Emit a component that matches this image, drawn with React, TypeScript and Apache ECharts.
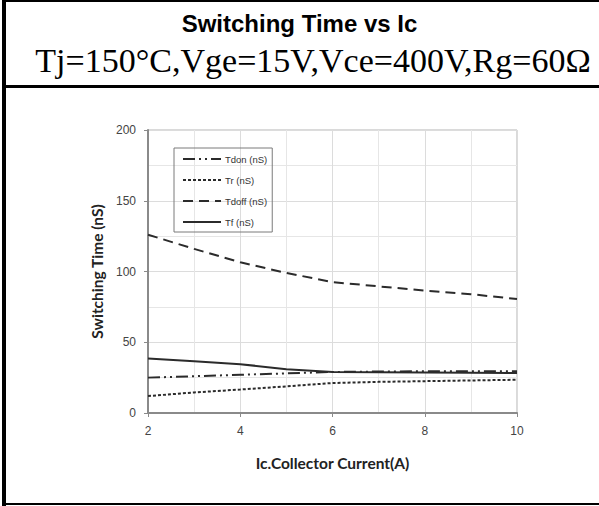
import React, { useEffect, useRef } from "react";
import * as echarts from "echarts";

const W = 599;
const H = 506;

// Collector current (A) sample points for each curve
const icPoints = [2, 3, 4, 5, 6, 7, 8, 9, 10];
const tdon = [25, 26, 27, 28, 29, 29.3, 29.5, 29.5, 29.5];
const tr = [12, 14.5, 16.6, 18.8, 21.2, 22, 22.5, 23, 23.5];
const tdoff = [126, 116, 106.5, 99, 92.5, 89.5, 86.5, 84, 80.5];
const tf = [38.5, 36.5, 34.5, 31, 29, 28.8, 28.6, 28.4, 28.2];

const seriesNames = ["Tdon (nS)", "Tr (nS)", "Tdoff (nS)", "Tf (nS)"];
const xTicks = [2, 4, 6, 8, 10];
const yTicks = [0, 50, 100, 150, 200];

const pairs = (ys: number[]) => icPoints.map((x, i) => [x, ys[i]]);

export default function App() {
  const ref = useRef<HTMLDivElement>(null);

  useEffect(() => {
    if (!ref.current) return;
    const chart = echarts.init(ref.current, undefined, { renderer: "svg" });
    const lineColor = "#2b2b2b";
    const mk = (name: string, ys: number[], type: any, width = 2) => ({
      name,
      type: "line",
      data: pairs(ys),
      symbol: "none",
      smooth: false,
      lineStyle: { color: lineColor, width, type },
      itemStyle: { color: lineColor },
    });

    chart.setOption({
      animation: false,
      backgroundColor: "#fff",
      title: [
        {
          text: "Switching Time vs Ic",
          left: "center",
          top: 6,
          textStyle: {
            fontFamily: "Liberation Sans, Arial, sans-serif",
            fontWeight: "bold",
            fontSize: 24,
            color: "#000",
          },
        },
        {
          text: "Tj=150°C,Vge=15V,Vce=400V,Rg=60Ω",
          left: 308,
          textAlign: "center",
          top: 38,
          textStyle: {
            fontFamily: "Liberation Serif, Times New Roman, serif",
            fontWeight: "normal",
            fontSize: 34,
            color: "#000",
          },
        },
      ],
      graphic: [
        { type: "rect", shape: { x: 2, y: 0, width: 4, height: H }, style: { fill: "#000" } },
        { type: "rect", shape: { x: 2, y: 0, width: W, height: 2 }, style: { fill: "#000" } },
        { type: "rect", shape: { x: 2, y: 85, width: W, height: 3 }, style: { fill: "#000" } },
        { type: "rect", shape: { x: 2, y: 503, width: W, height: 2 }, style: { fill: "#000" } },
      ],
      legend: {
        data: seriesNames,
        orient: "vertical",
        left: 174,
        top: 148,
        width: 99,
        padding: [6, 5, 5, 8],
        itemWidth: 38,
        itemHeight: 10,
        itemGap: 11,
        borderColor: "#7a7a7a",
        borderWidth: 1,
        itemStyle: { opacity: 0 },
        textStyle: {
          fontFamily: "Liberation Sans, Arial, sans-serif",
          fontSize: 9.5,
          color: "#333",
          padding: [0, 0, 0, -1],
        },
      },
      grid: {
        left: 148,
        right: W - 517,
        top: 130,
        bottom: H - 413,
        show: true,
        borderColor: "#b5b5b5",
        borderWidth: 1,
      },
      xAxis: {
        type: "value",
        min: 2,
        max: 10,
        interval: 2,
        name: "Ic.Collector Current(A)",
        nameLocation: "middle",
        nameGap: 42,
        nameTextStyle: {
          fontFamily: "Lato, sans-serif",
          fontWeight: "bold",
          fontSize: 15.5,
          color: "#222",
        },
        axisLine: { lineStyle: { color: "#8a8a8a", width: 2 } },
        axisTick: { show: true, length: 4, inside: false, lineStyle: { color: "#8a8a8a" } },
        axisLabel: {
          fontFamily: "Liberation Sans, Arial, sans-serif",
          fontSize: 12,
          color: "#444",
          margin: 12,
          customValues: xTicks,
        },
        splitLine: { show: true, lineStyle: { color: "#dcdcdc", width: 1 } },
        minorTick: { show: false, splitNumber: 2 },
        minorSplitLine: { show: true, lineStyle: { color: "#e6e6e6", width: 1 } },
      },
      yAxis: {
        type: "value",
        min: 0,
        max: 200,
        interval: 50,
        name: "Switching Time (nS)",
        nameLocation: "middle",
        nameGap: 43,
        nameTextStyle: {
          fontFamily: "Lato, sans-serif",
          fontWeight: "bold",
          fontSize: 15.5,
          color: "#222",
        },
        axisLine: { show: true, lineStyle: { color: "#8a8a8a", width: 2 } },
        axisTick: { show: true, length: 4, lineStyle: { color: "#8a8a8a" } },
        axisLabel: {
          fontFamily: "Liberation Sans, Arial, sans-serif",
          fontSize: 12,
          color: "#444",
          margin: 12,
          customValues: yTicks,
        },
        splitLine: { show: true, lineStyle: { color: "#dcdcdc", width: 1 } },
        minorTick: { show: false, splitNumber: 2 },
        minorSplitLine: { show: true, lineStyle: { color: "#e6e6e6", width: 1 } },
      },
      series: [
        mk(seriesNames[0], tdon, [12, 4, 2, 4, 2, 4]),
        mk(seriesNames[1], tr, [3, 2]),
        mk(seriesNames[2], tdoff, [10, 6]),
        mk(seriesNames[3], tf, "solid"),
      ],
    });
    return () => chart.dispose();
  }, []);

  return (
    <div
      ref={ref}
      style={{ position: "absolute", left: 0, top: 0, width: W, height: H, background: "#fff" }}
    />
  );
}
